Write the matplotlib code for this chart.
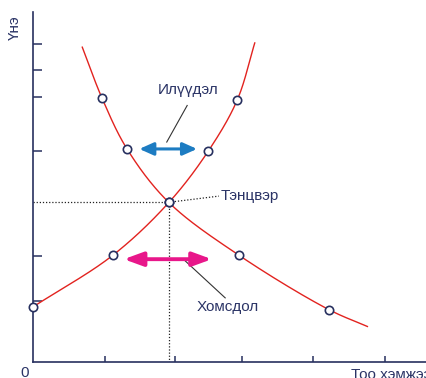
import numpy as np
import matplotlib
matplotlib.use("Agg")
import matplotlib.pyplot as plt

# ---- data (quantity, price) ----
demand_q = [0.70, 0.98, 1.34, 1.93, 2.93, 4.20, 4.75]
demand_p = [5.94, 4.98, 4.01, 3.01, 2.01, 0.99, 0.67]
demand_mq = [0.98, 1.34, 1.93, 2.93, 4.20]
demand_mp = [4.98, 4.01, 3.01, 2.01, 0.99]

supply_q = [0.00, 1.13, 1.93, 2.49, 2.90, 3.15]
supply_p = [1.04, 2.01, 3.01, 3.98, 4.94, 6.02]
supply_mq = [0.00, 1.13, 1.93, 2.49, 2.90]
supply_mp = [1.04, 2.01, 3.01, 3.98, 4.94]

eq_q, eq_p = 1.93, 3.01

x_ticks = [1.02, 2.02, 2.97, 3.98, 5.0]
y_ticks = [1.15, 2.0, 3.98, 5.0, 5.51, 6.0]

surplus_span = [1.51, 2.33]
surplus_price = 4.02
shortage_span = [1.29, 2.54]
shortage_price = 1.94

labels = {"surplus": "Илүүдэл", "eq": "Тэнцвэр", "short": "Хомсдол",
          "x": "Тоо хэмжээ", "y": "Үнэ", "zero": "0"}

# ---- style ----
RED = "#e2231f"
NAVY = "#27305f"
TXT = "#2b3466"
BLUE = "#1d7cc2"
MAG = "#e8178a"
FONT = ["Liberation Sans", "DejaVu Sans"]
FS = 11

W, H = 427, 378
SX, SY = 70.4, 53.0  # pixels per data unit


def catmull(xs, ys, n=60, alpha=0.5):
    # centripetal Catmull-Rom, computed in pixel space for even smoothness
    P = np.column_stack([np.asarray(xs) * SX, np.asarray(ys) * SY]).astype(float)
    P = np.vstack([2 * P[0] - P[1], P, 2 * P[-1] - P[-2]])
    out = []
    for i in range(1, len(P) - 2):
        p0, p1, p2, p3 = P[i - 1], P[i], P[i + 1], P[i + 2]
        t0 = 0.0
        t1 = t0 + np.linalg.norm(p1 - p0) ** alpha
        t2 = t1 + np.linalg.norm(p2 - p1) ** alpha
        t3 = t2 + np.linalg.norm(p3 - p2) ** alpha
        t = np.linspace(t1, t2, n)[:, None]
        A1 = (t1 - t) / (t1 - t0) * p0 + (t - t0) / (t1 - t0) * p1
        A2 = (t2 - t) / (t2 - t1) * p1 + (t - t1) / (t2 - t1) * p2
        A3 = (t3 - t) / (t3 - t2) * p2 + (t - t2) / (t3 - t2) * p3
        B1 = (t2 - t) / (t2 - t0) * A1 + (t - t0) / (t2 - t0) * A2
        B2 = (t3 - t) / (t3 - t1) * A2 + (t - t1) / (t3 - t1) * A3
        C = (t2 - t) / (t2 - t1) * B1 + (t - t1) / (t2 - t1) * B2
        out.append(C if i == 1 else C[1:])
    out = np.vstack(out)
    return out[:, 0] / SX, out[:, 1] / SY


fig = plt.figure(figsize=(4.27, 3.78), dpi=100)
ax = fig.add_axes([33 / W, (H - 362) / H, (W - 33) / W, (362 - 12) / H])
ax.set_xlim(0, (W - 33) / SX)
ax.set_ylim(0, 350 / SY)

for s in ["top", "right"]:
    ax.spines[s].set_visible(False)
for s in ["left", "bottom"]:
    ax.spines[s].set_color(NAVY)
    ax.spines[s].set_linewidth(1.2)

ax.set_xticks(x_ticks)
ax.set_yticks(y_ticks)
ax.set_xticklabels([])
ax.set_yticklabels([])
ax.tick_params(axis="x", direction="in", length=4.3, width=1.1, color=NAVY)
ax.tick_params(axis="y", direction="in", length=6.5, width=1.1, color=NAVY)

# equilibrium guide lines
ax.plot([0, eq_q], [eq_p, eq_p], color="#222222", lw=0.9, ls=(0, (1, 1.5)), zorder=2)
ax.plot([eq_q, eq_q], [eq_p, 0], color="#222222", lw=0.9, ls=(0, (1, 1.5)), zorder=2)

# curves
dx, dy = catmull(demand_q, demand_p)
sx, sy = catmull(supply_q, supply_p)
ax.plot(dx, dy, color=RED, lw=1.0, zorder=3, clip_on=False)
ax.plot(sx, sy, color=RED, lw=1.0, zorder=3, clip_on=False)

mk = dict(ls="none", marker="o", ms=6, mfc="white", mec=NAVY, mew=1.2, zorder=5, clip_on=False)
ax.plot(demand_mq, demand_mp, **mk)
ax.plot(supply_mq, supply_mp, **mk)

# arrows
ax.annotate("", xy=(surplus_span[1], surplus_price), xytext=(surplus_span[0], surplus_price),
            arrowprops=dict(arrowstyle="<|-|>,head_length=0.85,head_width=0.38", mutation_scale=10,
                            lw=2.2, color=BLUE, shrinkA=0, shrinkB=0), zorder=4)
ax.annotate("", xy=(shortage_span[1], shortage_price), xytext=(shortage_span[0], shortage_price),
            arrowprops=dict(arrowstyle="<|-|>,head_length=1.15,head_width=0.42", mutation_scale=10,
                            lw=2.8, color=MAG, shrinkA=0, shrinkB=0), zorder=4)

# leader lines
ax.plot([2.19, 1.90], [4.84, 4.15], color="#333333", lw=0.8, zorder=3)
ax.plot([2.16, 2.73], [1.91, 1.21], color="#333333", lw=0.8, zorder=3)
ax.plot([1.97, 2.64], [3.02, 3.13], color="#222222", lw=0.9, ls=(0, (1, 1.5)), zorder=3)

# texts
tk = dict(color=TXT, family=FONT, fontsize=FS)
ax.text(2.205, 5.13, labels["surplus"], ha="center", va="center", **tk)
ax.text(2.67, 3.13, labels["eq"], ha="left", va="center", **tk)
ax.text(2.33, 1.04, labels["short"], ha="left", va="center", **tk)
ax.text(4.517, -0.236, labels["x"], ha="left", va="center", clip_on=False, **tk)
ax.text(-0.114, -0.20, labels["zero"], ha="center", va="center", clip_on=False, **tk)
ax.text(-0.256, 6.30, labels["y"], ha="center", va="center", rotation=90, clip_on=False, **tk)

fig.savefig("out.png", dpi=100)
